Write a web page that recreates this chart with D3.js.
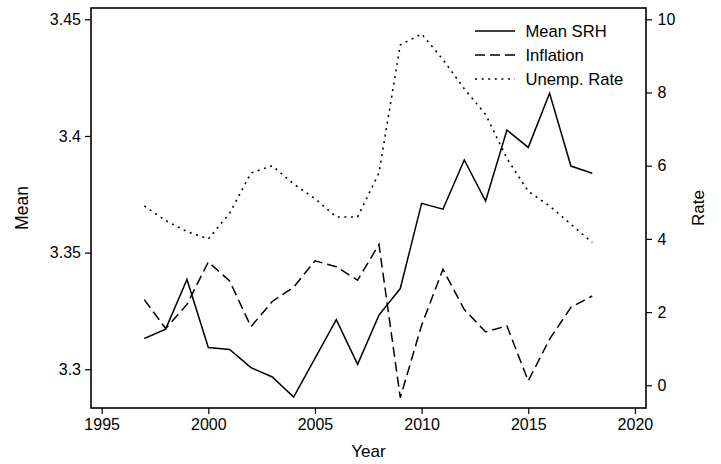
<!DOCTYPE html>
<html>
<head>
<meta charset="utf-8">
<script src="https://cdn.jsdelivr.net/npm/d3@7"></script>
<style>
  html, body { margin: 0; padding: 0; background: #fff; }
  svg { display: block; }
  text { font-family: "Liberation Sans", Arial, Helvetica, sans-serif; fill: #000; }
</style>
</head>
<body>
<svg id="chart" width="721" height="464"></svg>
<script>
// Annual series, 1997-2018
const years = [1997, 1998, 1999, 2000, 2001, 2002, 2003, 2004, 2005, 2006, 2007,
               2008, 2009, 2010, 2011, 2012, 2013, 2014, 2015, 2016, 2017, 2018];
const meanSRH = [3.3132, 3.3172, 3.3385, 3.3093, 3.3085, 3.3007, 3.2967, 3.2881, 3.3047, 3.3213, 3.3021,
                 3.3232, 3.3346, 3.3711, 3.3686, 3.3897, 3.3721, 3.4025, 3.3951, 3.4183, 3.3871, 3.3840];
const inflation = [2.34, 1.55, 2.21, 3.37, 2.85, 1.60, 2.29, 2.68, 3.40, 3.24, 2.87,
                   3.85, -0.34, 1.64, 3.17, 2.07, 1.46, 1.62, 0.12, 1.26, 2.13, 2.44];
const unempRate = [4.9, 4.5, 4.2, 4.0, 4.7, 5.8, 6.0, 5.5, 5.1, 4.6, 4.6,
                   5.8, 9.3, 9.6, 8.9, 8.1, 7.4, 6.2, 5.3, 4.9, 4.4, 3.9];

// Axis ticks
const xTicks = [1995, 2000, 2005, 2010, 2015, 2020];
const leftTicks = [3.3, 3.35, 3.4, 3.45];
const leftTickLabels = ["3.3", "3.35", "3.4", "3.45"];
const rightTicks = [0, 2, 4, 6, 8, 10];

const seriesNames = ["Mean SRH", "Inflation", "Unemp. Rate"];

const svg = d3.select("#chart");
const plot = { left: 91, right: 646, top: 8, bottom: 408 };

const x = d3.scaleLinear().domain([1994.5, 2020.52]).range([plot.left, plot.right]);
const yL = d3.scaleLinear().domain([3.2834, 3.45485]).range([plot.bottom, plot.top]);
const yR = d3.scaleLinear().domain([-0.621, 10.309]).range([plot.bottom, plot.top]);

// Axes
const fontSize = "16px";
const xAxis = svg.append("g")
  .attr("transform", `translate(0,${plot.bottom})`)
  .call(d3.axisBottom(x).tickValues(xTicks).tickFormat(d3.format("d")).tickSize(6).tickPadding(5));
const lAxis = svg.append("g")
  .attr("transform", `translate(${plot.left},0)`)
  .call(d3.axisLeft(yL).tickValues(leftTicks)
    .tickFormat((d, i) => leftTickLabels[i]).tickSize(6).tickPadding(4));
const rAxis = svg.append("g")
  .attr("transform", `translate(${plot.right},0)`)
  .call(d3.axisRight(yR).tickValues(rightTicks).tickFormat(d3.format("d")).tickSize(6).tickPadding(5.5));

[xAxis, lAxis, rAxis].forEach(g => {
  g.select(".domain").remove();
  g.selectAll("line").attr("stroke", "#000").attr("stroke-width", 1.2);
  g.selectAll("text").attr("font-size", fontSize)
    .attr("font-family", '"Liberation Sans", Arial, Helvetica, sans-serif').attr("fill", "#000");
});

// Plot frame
svg.append("rect")
  .attr("x", plot.left).attr("y", plot.top)
  .attr("width", plot.right - plot.left).attr("height", plot.bottom - plot.top)
  .attr("fill", "none").attr("stroke", "#000").attr("stroke-width", 1.6);

// Axis titles
svg.append("text").attr("x", (plot.left + plot.right) / 2).attr("y", 456.7)
  .attr("text-anchor", "middle").attr("font-size", "17px").text("Year");
svg.append("text").attr("transform", `translate(28.3,${(plot.top + plot.bottom) / 2}) rotate(-90)`)
  .attr("text-anchor", "middle").attr("font-size", "17.5px").text("Mean");
svg.append("text").attr("transform", `translate(703.5,${(plot.top + plot.bottom) / 2}) rotate(-90)`)
  .attr("text-anchor", "middle").attr("font-size", "17px").text("Rate");

// Series lines
const styles = [
  { dash: null, width: 1.5 },
  { dash: "10,5", width: 1.5 },
  { dash: "2,4.6", width: 1.6 }
];
const series = [
  { values: meanSRH, y: yL },
  { values: inflation, y: yR },
  { values: unempRate, y: yR }
];

series.forEach((s, i) => {
  const line = d3.line().x((d, j) => x(years[j])).y(d => s.y(d));
  svg.append("path").datum(s.values)
    .attr("d", line)
    .attr("fill", "none")
    .attr("stroke", "#000")
    .attr("stroke-width", styles[i].width)
    .attr("stroke-dasharray", styles[i].dash)
    .attr("stroke-linejoin", "miter");
});

// Legend
const legend = svg.append("g").attr("transform", "translate(475,31)");
seriesNames.forEach((name, i) => {
  const row = legend.append("g").attr("transform", `translate(0,${i * 24})`);
  row.append("line").attr("x1", 0).attr("x2", 40).attr("y1", 0).attr("y2", 0)
    .attr("stroke", "#000").attr("stroke-width", styles[i].width)
    .attr("stroke-dasharray", styles[i].dash);
  row.append("text").attr("x", 50.5).attr("y", 0).attr("dy", "0.35em")
    .attr("font-size", "16.6px").text(name);
});
</script>
</body>
</html>
